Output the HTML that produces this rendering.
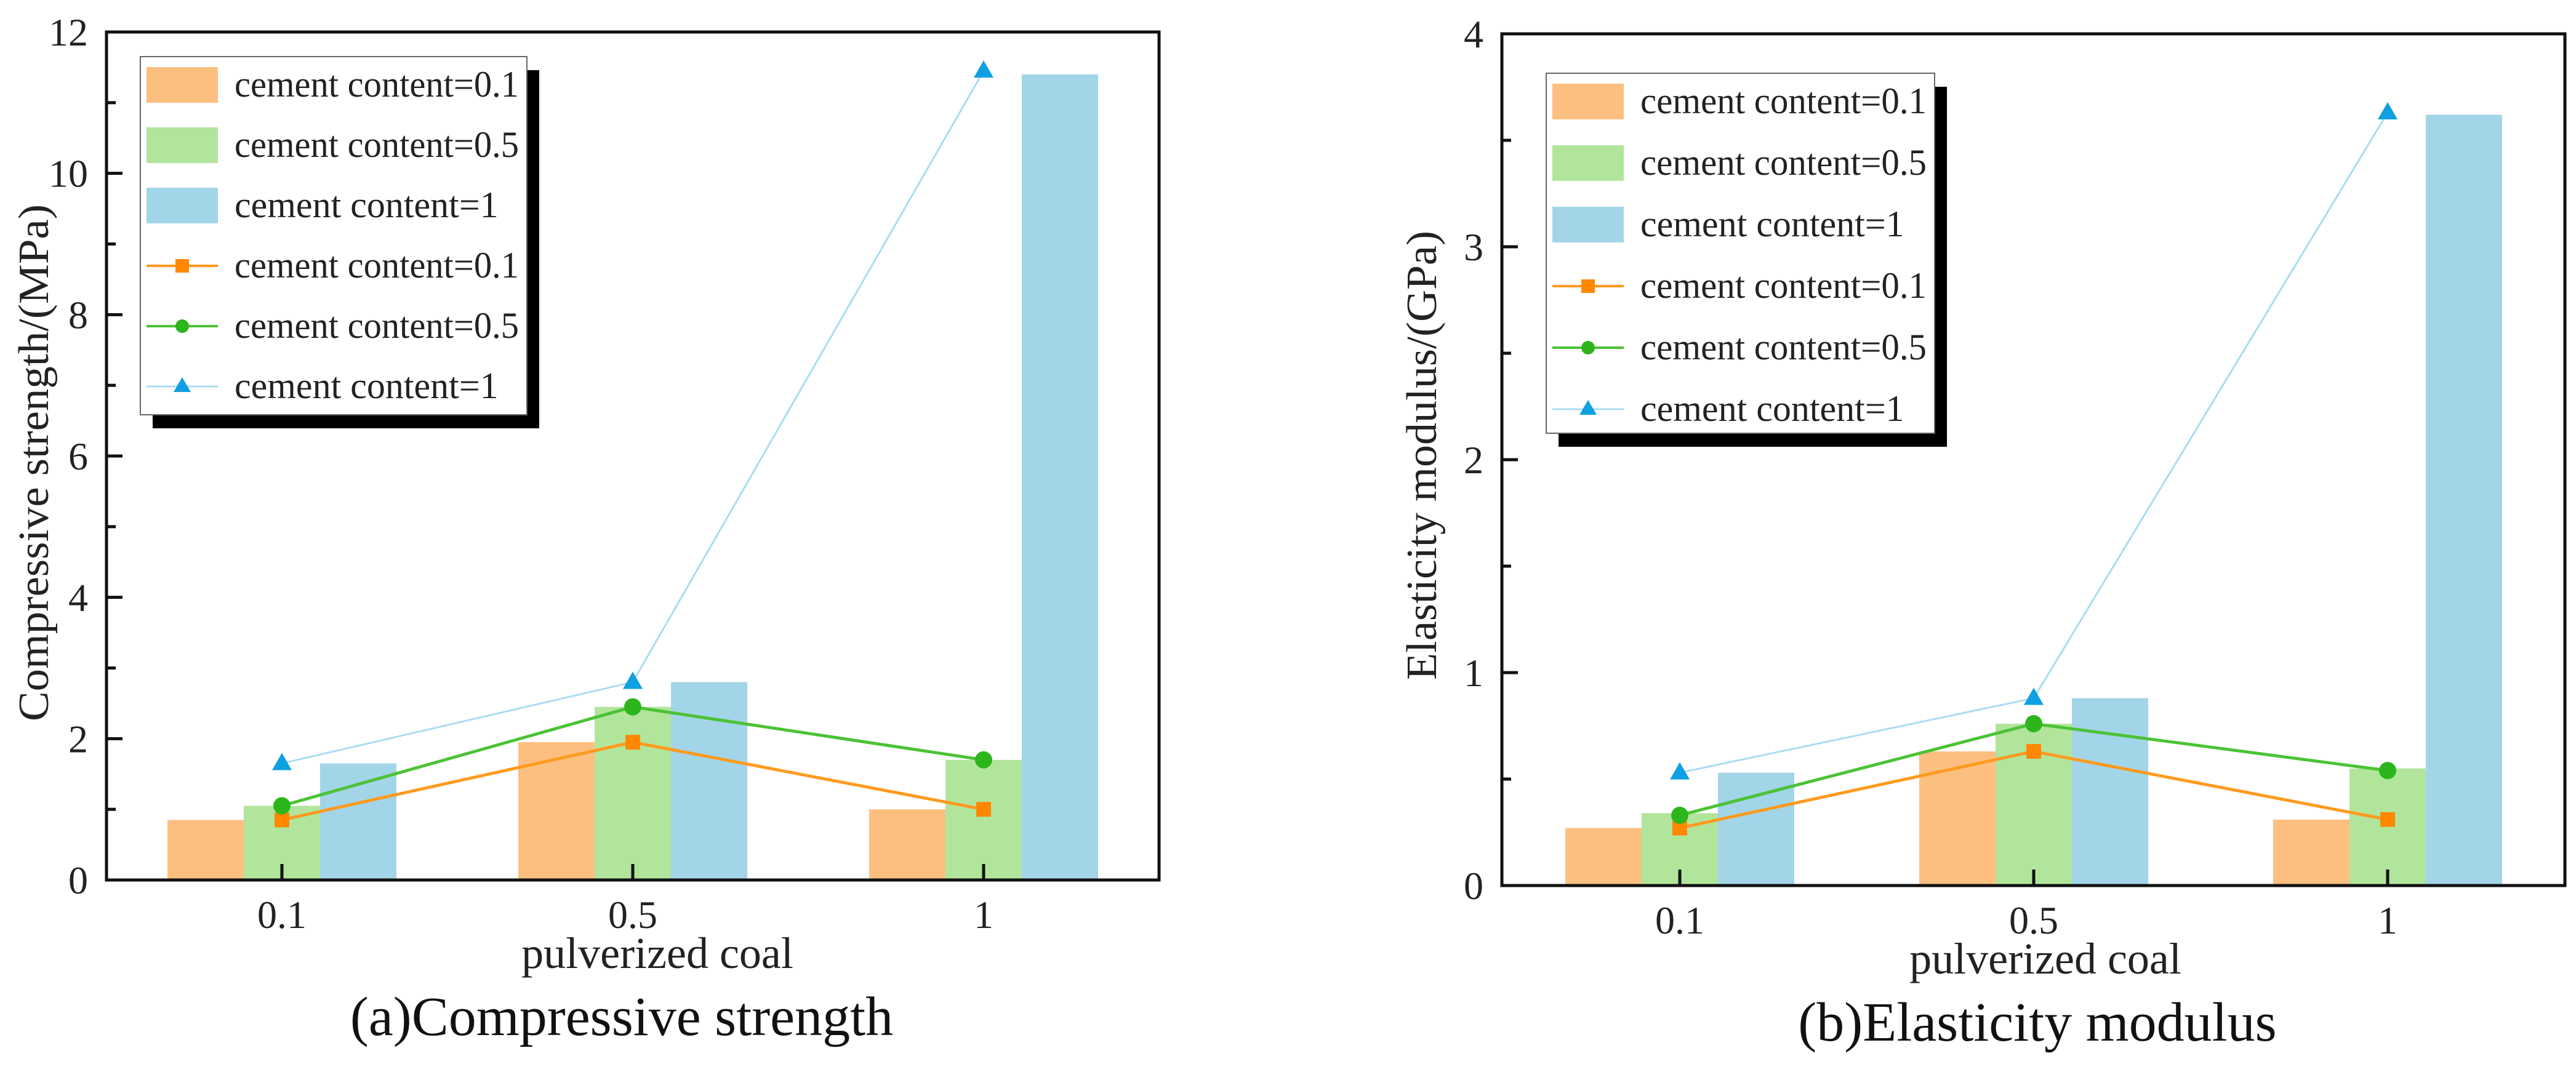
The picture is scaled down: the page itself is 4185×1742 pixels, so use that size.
<!DOCTYPE html>
<html><head><meta charset="utf-8"><style>
html,body{margin:0;padding:0;background:#fff;}
svg, svg text{font-family:"Liberation Serif","Times New Roman",serif;}
</style></head><body>
<svg id="chart" width="4185" height="1737" viewBox="0 0 4185 1737" xmlns="http://www.w3.org/2000/svg" font-family="Liberation Serif, serif"></svg>
<script>
const categories = ["0.1","0.5","1"];
const seriesNames = ["cement content=0.1","cement content=0.5","cement content=1"];
// Chart A: compressive strength (MPa)
const aBar01 = [0.85, 1.95, 1.0];
const aBar05 = [1.05, 2.45, 1.7];
const aBar1 = [1.65, 2.8, 11.4];
const aLine01 = [0.85, 1.95, 1.0];
const aLine05 = [1.05, 2.45, 1.7];
const aLine1 = [1.65, 2.8, 11.45];
const aTicks = [0, 2, 4, 6, 8, 10, 12];
// Chart B: elasticity modulus (GPa)
const bBar01 = [0.27, 0.63, 0.31];
const bBar05 = [0.34, 0.76, 0.55];
const bBar1 = [0.53, 0.88, 3.62];
const bLine01 = [0.27, 0.63, 0.31];
const bLine05 = [0.33, 0.76, 0.54];
const bLine1 = [0.53, 0.88, 3.63];
const bTicks = [0, 1, 2, 3, 4];

const NS = "http://www.w3.org/2000/svg";
const svg = document.getElementById('chart');
const FF = '"Liberation Serif", serif';
function mk(tag, attrs, parent){
  const e = document.createElementNS(NS, tag);
  for (const k in attrs) e.setAttribute(k, attrs[k]);
  if (tag === 'text') e.setAttribute('font-family', FF);
  (parent||svg).appendChild(e);
  return e;
}
const barColors = ["#fdbf80","#b1e59c","#a3d5e8"];
const lineColors = ["#ff9a1f","#4cc236","#aadcf2"];
const markColors = ["#ff8800","#2db51c","#0ea0e0"];

function drawChart(o){
  const g = mk('g', {});
  
  
  const x0=o.x0, x1=o.x1, yTop=o.yTop, yBot=o.yBot, ymax=o.ymax;
  const ys = v => yBot - v/ymax*(yBot-yTop);
  const n = categories.length;
  const cx = i => o.c0 + i*o.cs;
  const bw = 124;
  const bars = [o.bars[0], o.bars[1], o.bars[2]];
  for (let s=0;s<3;s++){
    for (let i=0;i<n;i++){
      const r = mk('rect', {x: cx(i) + (s-1.5)*bw, y: ys(bars[s][i]), width: bw, height: yBot-ys(bars[s][i]), fill: barColors[s]}, g);
      
      
    }
  }
  const fr = mk('rect', {x:x0, y:yTop, width:x1-x0, height:yBot-yTop, fill:'none', stroke:'#111', 'stroke-width':5}, g);
  
  
  const step = o.ticks[1]-o.ticks[0];
  for (let t=0;t<o.ticks.length;t++){
    const v=o.ticks[t], y=ys(v);
    mk('line', {x1:x0, y1:y, x2:x0+26, y2:y, stroke:'#111','stroke-width':5}, g);
    if (t<o.ticks.length-1){
      const ym = ys(v+step/2);
      mk('line', {x1:x0, y1:ym, x2:x0+15, y2:ym, stroke:'#111','stroke-width':5}, g);
    }
    const tl = mk('text', {x:x0-30, y:y+22, 'font-size':64, 'text-anchor':'end', fill:'#222'}, g);
    tl.textContent = v;
    
    
  }
  for (let i=0;i<n;i++){
    mk('line', {x1:cx(i), y1:yBot, x2:cx(i), y2:yBot-26, stroke:'#111','stroke-width':5}, g);
    const xl = mk('text', {x:cx(i), y:yBot+78, 'font-size':64, 'text-anchor':'middle', fill:'#222'}, g);
    xl.textContent = categories[i];
    
    
  }
  for (let s=0;s<3;s++){
    const pts = o.lines[s].map((v,i)=>cx(i)+','+ys(v)).join(' ');
    const pl = mk('polyline', {points:pts, fill:'none', stroke:lineColors[s], 'stroke-width':s==2?3:5}, g);
    
    
    for (let i=0;i<n;i++){
      const px=cx(i), py=ys(o.lines[s][i]);
      let m;
      if (s==0) m = mk('rect', {x:px-12, y:py-12, width:24, height:24, fill:markColors[0]}, g);
      else if (s==1) m = mk('circle', {cx:px, cy:py, r:14, fill:markColors[1]}, g);
      else m = mk('polygon', {points:`${px},${py-17} ${px-16},${py+11} ${px+16},${py+11}`, fill:markColors[2]}, g);
      
      
    }
  }
  const L = o.legend;
  const lg = mk('g', {}, g);
  
  
  mk('rect', {x:L.x+20, y:L.y+22, width:L.w, height:L.h, fill:'#000'}, lg);
  mk('rect', {x:L.x, y:L.y, width:L.w, height:L.h, fill:'#fff', stroke:'#666', 'stroke-width':2}, lg);
  for (let k=0;k<6;k++){
    const ry = L.y + L.r0 + k*L.rs;
    const sx = L.x + 10, sw = 116;
    const s = k%3;
    if (k<3){
      mk('rect', {x:sx, y:ry-29, width:sw, height:58, fill:barColors[s]}, lg);
    } else {
      mk('line', {x1:sx, y1:ry, x2:sx+sw, y2:ry, stroke:lineColors[s], 'stroke-width':s==2?3:4}, lg);
      const mx=sx+sw/2;
      if (s==0) mk('rect', {x:mx-11, y:ry-11, width:22, height:22, fill:markColors[0]}, lg);
      else if (s==1) mk('circle', {cx:mx, cy:ry, r:11, fill:markColors[1]}, lg);
      else mk('polygon', {points:`${mx},${ry-15} ${mx-14},${ry+9} ${mx+14},${ry+9}`, fill:markColors[2]}, lg);
    }
    const attrs = {x:L.x+153, y:ry+19, 'font-size':60, fill:'#222'};
    if (s!==2) { attrs.textLength = L.tw; attrs.lengthAdjust = 'spacingAndGlyphs'; }
    const t = mk('text', attrs, lg);
    t.textContent = seriesNames[s];
    
    
  }
  const yt = mk('text', {x:0, y:0, 'font-size':70, 'text-anchor':'middle', fill:'#222', transform:`translate(${o.ytx},${o.yty}) rotate(-90)`, textLength:o.ytl, lengthAdjust:'spacingAndGlyphs'}, g);
  yt.textContent = o.ytitle;
  
  
  const xt = mk('text', {x:o.xtx, y:yBot+143, 'font-size':72, 'text-anchor':'middle', fill:'#222'}, g);
  xt.textContent = 'pulverized coal';
  
  
  const ct = mk('text', {x:o.ctx, y:yBot+252, 'font-size':90, 'text-anchor':'middle', fill:'#111'}, g);
  ct.textContent = o.caption;
  
  
}

drawChart({name:'compressive-strength-chart', x0:173, x1:1883, yTop:52, yBot:1430, ymax:12, ticks:aTicks,
  c0:458, cs:570, bars:[aBar01,aBar05,aBar1], lines:[aLine01,aLine05,aLine1],
  legend:{x:228, y:92, w:628, h:582, r0:46, rs:98, tw:462},
  ytitle:'Compressive strength/(MPa)', ytl:840, ytx:78, yty:752, xtx:1068, ctx:1010, caption:'(a)Compressive strength'});
drawChart({name:'elasticity-modulus-chart', x0:2440, x1:4167, yTop:55, yBot:1439, ymax:4, ticks:bTicks,
  c0:2729, cs:575, bars:[bBar01,bBar05,bBar1], lines:[bLine01,bLine05,bLine1],
  legend:{x:2512, y:119, w:631, h:585, r0:46, rs:100, tw:465},
  ytitle:'Elasticity modulus/(GPa)', ytl:730, ytx:2333, yty:740, xtx:3323, ctx:3310, caption:'(b)Elasticity modulus'});
</script>
</body></html>
